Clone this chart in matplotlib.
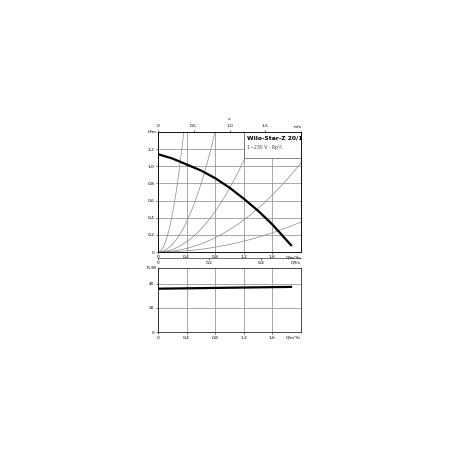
import numpy as np
import matplotlib.pyplot as plt

# pump curve H(Q)
q_pump = [0, 0.2, 0.4, 0.6, 0.8, 1.0, 1.2, 1.4, 1.6, 1.86]
h_pump = [1.14, 1.09, 1.02, 0.95, 0.86, 0.75, 0.62, 0.48, 0.32, 0.08]
# power P1(Q)
q_pow = [0, 1.86]
p_pow = [36, 37.5]
# system parabola coefficients H = k*Q^2
k_sys = [10.8, 2.19, 0.74, 0.26, 0.0875]

fs = 3.2
fig = plt.figure(figsize=(4.5, 4.5), dpi=100)
ax = fig.add_axes([0.351, 0.44, 0.318, 0.267])
q = np.linspace(0, 2.0, 200)
for k in k_sys:
    ax.plot(q, k * q**2, color='#888888', lw=0.5)
ax.plot(q_pump, h_pump, color='black', lw=1.6)
ax.set_xlim(0, 2.0)
ax.set_ylim(0, 1.4)
ax.set_xticks([0, 0.4, 0.8, 1.2, 1.6])
ax.set_xticklabels(['0', '0,4', '0,8', '1,2', '1,6'])
ax.set_yticks([0, 0.2, 0.4, 0.6, 0.8, 1.0, 1.2])
ax.set_yticklabels(['0', '0,2', '0,4', '0,6', '0,8', '1,0', '1,2'])
ax.grid(color='#999999', lw=0.6)
ax.tick_params(labelsize=fs, length=1.5, width=0.4, pad=1)
ax.text(-0.02, 1.4, 'H/m', fontsize=fs, ha='right', va='center')
ax.text(1.0, -0.04, 'Q/m³/h', fontsize=fs, ha='right', va='top', transform=ax.transAxes)
ax.add_patch(plt.Rectangle((1.2, 1.09), 0.8, 0.31, fc='white', ec='#555555', lw=0.5, zorder=3))
ax.text(1.24, 1.33, 'Wilo-Star-Z 20/1', fontsize=4.3, fontweight='bold', zorder=4, va='center')
ax.text(1.24, 1.22, '1~230 V - Rp½', fontsize=3.3, color='#444444', zorder=4, va='center')

# top velocity axis
top = ax.twiny()
top.set_xlim(0, 2.0)
top.set_xticks([0, 0.5, 1.0, 1.5])
top.set_xticklabels(['0', '0,5', '1,0', '1,5'])
top.tick_params(labelsize=fs, length=1.5, width=0.4, pad=1)
top.text(1.0, 1.035, 'm/s', fontsize=fs, ha='right', transform=ax.transAxes)
top.text(0.5, 1.1, 'v', fontsize=fs, ha='center', transform=ax.transAxes)

ax2 = fig.add_axes([0.351, 0.262, 0.318, 0.142])
ax2.patch.set_alpha(0)
ax2.plot(q_pow, p_pow, color='black', lw=1.6)
ax2.set_xlim(0, 2.0)
ax2.set_ylim(0, 53)
ax2.set_xticks([0, 0.4, 0.8, 1.2, 1.6])
ax2.set_xticklabels(['0', '0,4', '0,8', '1,2', '1,6'])
ax2.set_yticks([0, 20, 40])
ax2.grid(color='#999999', lw=0.6)
ax2.tick_params(labelsize=fs, length=1.5, width=0.4, pad=1)
ax2.text(-0.02, 53, 'P₁/W', fontsize=fs, ha='right', va='center')
ax2.text(1.0, -0.07, 'Q/m³/h', fontsize=fs, ha='right', va='top', transform=ax2.transAxes)

# secondary l/s axis between the plots
sec = ax.secondary_xaxis(-0.05, functions=(lambda x: x / 3.6, lambda x: x * 3.6))
sec.set_xticks([0, 0.2, 0.4])
sec.set_xticklabels(['0', '0,2', '0,4'])
sec.tick_params(labelsize=fs, length=1.5, width=0.4, pad=0.5)
sec.spines['bottom'].set_linewidth(0.4)
ax.text(1.0, -0.07, 'Q/l/s', fontsize=fs, ha='right', va='top', transform=ax.transAxes)

for a in (ax, ax2, top):
    for s in a.spines.values():
        s.set_linewidth(0.5)

fig.savefig('out.png', dpi=100)
